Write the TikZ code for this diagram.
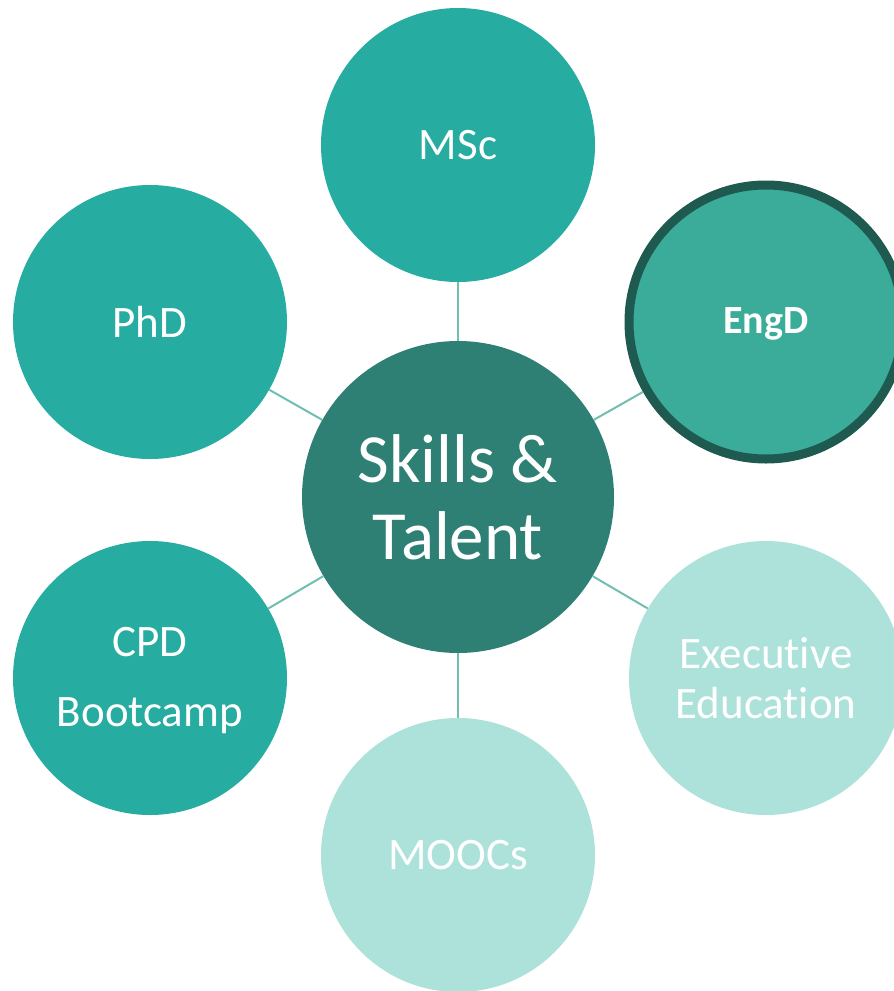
\documentclass[tikz,border=0pt]{standalone}
\usepackage{fontspec}
\setmainfont{Carlito}[Ligatures={NoCommon,NoRare,NoContextual}]
\definecolor{teal1}{HTML}{27ACA1}
\definecolor{centerc}{HTML}{2E8074}
\definecolor{engfill}{HTML}{3BAB9A}
\definecolor{engdraw}{HTML}{1E5A50}
\definecolor{lightc}{HTML}{ADE2DB}
\definecolor{linec}{HTML}{6FBFB1}
\begin{document}
\begin{tikzpicture}[x=1pt,y=-1pt,
  outer/.style={circle,minimum size=274pt,inner sep=0pt,text=white,font=\fontsize{45}{50}\selectfont,align=center},
  conn/.style={draw=linec,line width=2pt}]
\useasboundingbox (0,0) rectangle (894,991);
\node[circle,fill=centerc,minimum size=312pt,inner sep=0pt,text=white,align=center,font=\fontsize{69}{77}\selectfont] (c) at (458,497) {Skills \&\\Talent};
\node[outer,fill=teal1] (msc) at (458,145) {MSc};
\node[outer,fill=teal1] (phd) at (150,322) {PhD};
\node[outer,fill=engfill,draw=engdraw,line width=9pt,minimum size=274pt,font=\fontsize{40}{48}\selectfont\bfseries,text depth=2pt] (engd) at (766,322) {EngD};
\node[outer,fill=teal1,font=\fontsize{45}{70}\selectfont,text depth=3pt] (cpd) at (150,678) {CPD\\Bootcamp};
\node[outer,fill=lightc,font=\fontsize{45}{50}\selectfont] (exe) at (766,678) {Executive\\Education};
\node[outer,fill=lightc] (mooc) at (458,855) {MOOCs};
\foreach \n in {msc,phd,engd,cpd,exe,mooc} \draw[conn] (c) -- (\n);
\end{tikzpicture}
\end{document}
